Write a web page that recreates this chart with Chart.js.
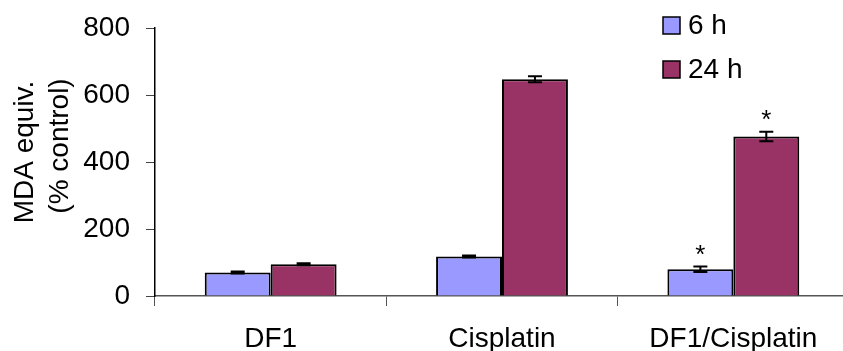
<!DOCTYPE html>
<html>
<head>
<meta charset="utf-8">
<script src="https://cdn.jsdelivr.net/npm/chart.js@4/dist/chart.umd.min.js"></script>
<style>
  html, body { margin: 0; padding: 0; background: #fff; overflow: hidden; }
  canvas { display: block; }
</style>
</head>
<body>
<canvas id="mdaChart" width="860" height="351"></canvas>
<script>
// MDA equivalents chart data
const categories = ['DF1', 'Cisplatin', 'DF1/Cisplatin'];
const values6h = [70, 118, 80];
const values24h = [95, 647, 476];
const errors6h = [3, 3, 8];
const errors24h = [3, 9, 14];
const stars6h = [false, false, true];
const stars24h = [false, false, true];
const yTicks = [0, 200, 400, 600, 800];

const FONT = '"Liberation Sans", Arial, sans-serif';

// error bars + significance stars
const errorBarPlugin = {
    id: 'errorBars',
    afterDatasetsDraw(chart) {
        const ctx = chart.ctx;
        const y = chart.scales.y;
        const errs = [errors6h, errors24h];
        const stars = [stars6h, stars24h];
        ctx.save();
        ctx.strokeStyle = '#000';
        ctx.lineWidth = 2;
        chart.data.datasets.forEach((ds, i) => {
            const meta = chart.getDatasetMeta(i);
            meta.data.forEach((bar, j) => {
                const v = ds.data[j];
                const e = errs[i][j];
                const yt = y.getPixelForValue(v + e);
                const yb = y.getPixelForValue(v - e);
                ctx.beginPath();
                ctx.moveTo(bar.x, yt); ctx.lineTo(bar.x, yb);
                ctx.moveTo(bar.x - 7, yt); ctx.lineTo(bar.x + 7, yt);
                ctx.moveTo(bar.x - 7, yb); ctx.lineTo(bar.x + 7, yb);
                ctx.stroke();
                if (stars[i][j]) {
                    ctx.fillStyle = '#000';
                    ctx.font = '26px ' + FONT;
                    ctx.textAlign = 'center';
                    ctx.textBaseline = 'middle';
                    ctx.fillText('*', bar.x, yt - 11);
                }
            });
        });
        ctx.restore();
    }
};

// legend and rotated y title drawn by hand to sit like the original
const decorPlugin = {
    id: 'decor',
    afterDraw(chart) {
        const ctx = chart.ctx;
        ctx.save();
        ctx.font = '28px ' + FONT;
        ctx.fillStyle = '#000';
        ctx.textBaseline = 'middle';
        ctx.textAlign = 'left';
        chart.data.datasets.forEach((ds, i) => {
            const top = 17 + i * 44;
            ctx.fillStyle = ds.backgroundColor;
            ctx.fillRect(663, top, 17, 17);
            ctx.strokeStyle = '#000';
            ctx.lineWidth = 1.5;
            ctx.strokeRect(663, top, 17, 17);
            ctx.fillStyle = '#000';
            ctx.fillText(ds.label, 688, top + 9);
        });

        ctx.translate(0, 152);
        ctx.rotate(-Math.PI / 2);
        ctx.textAlign = 'center';
        ctx.textBaseline = 'alphabetic';
        ctx.fillText('MDA equiv.', 0, 33);
        ctx.fillText('(% control)', 6, 68);
        ctx.restore();
    }
};

const mdaCtx = document.getElementById('mdaChart').getContext('2d');
const mdaChart = new Chart(mdaCtx, {
    type: 'bar',
    data: {
        labels: categories,
        datasets: [{
            label: '6 h',
            data: values6h,
            backgroundColor: '#9999FF',
            borderColor: '#000',
            borderWidth: 2
        }, {
            label: '24 h',
            data: values24h,
            backgroundColor: '#993366',
            borderColor: '#000',
            borderWidth: 2
        }]
    },
    options: {
        responsive: false,
        animation: false,
        events: [],
        layout: {
            padding: { top: 28, right: 11, left: 0, bottom: 0 }
        },
        datasets: {
            bar: {
                categoryPercentage: 0.57,
                barPercentage: 1.0
            }
        },
        plugins: {
            legend: { display: false },
            tooltip: { enabled: false }
        },
        scales: {
            x: {
                grid: {
                    drawOnChartArea: false,
                    offset: true,
                    tickLength: 10,
                    color: '#555'
                },
                border: { display: true, color: '#555', width: 1.5 },
                ticks: {
                    color: '#000',
                    padding: 16,
                    font: { family: FONT, size: 28 }
                },
                afterFit(scale) {
                    scale.height = 55;
                    scale.paddingLeft = 0;
                    scale.paddingRight = 0;
                }
            },
            y: {
                min: 0,
                max: 800,
                afterBuildTicks(scale) {
                    scale.ticks = yTicks.map(v => ({ value: v }));
                },
                grid: {
                    drawOnChartArea: false,
                    tickLength: 9,
                    color: '#444'
                },
                border: { display: true, color: '#000', width: 1.5 },
                ticks: {
                    color: '#000',
                    padding: 16,
                    font: { family: FONT, size: 28 }
                },
                afterFit(scale) {
                    scale.width = 155;
                    scale.paddingTop = 0;
                    scale.paddingBottom = 0;
                }
            }
        }
    },
    plugins: [errorBarPlugin, decorPlugin]
});
</script>
</body>
</html>
